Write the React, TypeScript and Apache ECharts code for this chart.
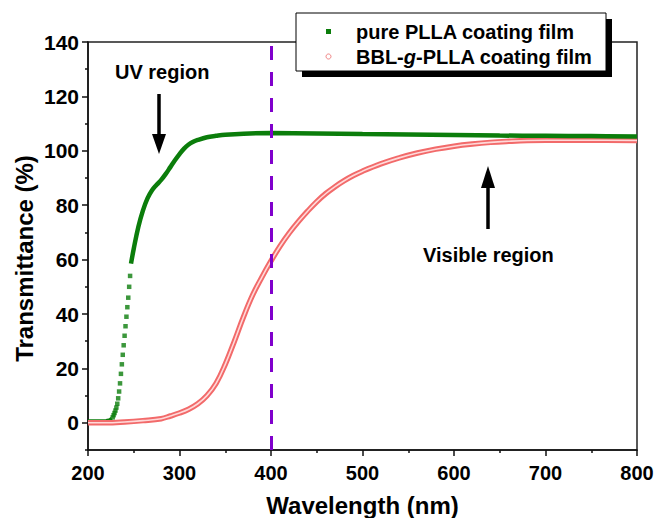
import React, { useEffect, useRef } from "react";
import * as echarts from "echarts";

// pure PLLA coating film (wavelength nm, transmittance %)
const greenBase: [number, number][] = [
  [200, 0.6], [210, 0.6], [220, 0.7], [224, 1], [226, 1.5],
];
const greenCurve: [number, number][] = [
  [247, 58.5], [250, 64], [255, 72], [260, 78], [265, 82.5], [270, 85.5], [275, 87.5],
  [280, 89.3], [285, 91.5], [290, 94], [295, 96.5], [300, 98.8], [305, 100.8], [310, 102.3],
  [315, 103.3], [320, 104], [330, 105], [340, 105.5], [350, 105.9], [370, 106.3],
  [400, 106.5], [450, 106.4], [500, 106.2], [550, 106], [600, 105.8], [650, 105.6],
  [700, 105.5], [750, 105.4], [800, 105.3],
];
// sparse dotted squares on the steep edge of the pure PLLA curve
const greenSteep: [number, number][] = [
  [227, 2], [228, 2.8], [229, 3.6], [230, 4.5], [231, 5.6], [232, 7], [233, 9],
  [234, 11.5], [235, 14.5], [236, 18], [237, 21.5], [238, 25], [239, 28.5],
  [240, 32], [241, 35.5], [242, 39], [243, 42.5], [244, 46], [245, 50],
  [246, 54],
];
// BBL-g-PLLA coating film
const redCurve: [number, number][] = [
  [200, 0], [220, 0], [240, 0.3], [260, 0.8], [280, 1.5], [290, 2.5], [300, 3.6],
  [310, 5], [320, 7], [330, 10], [340, 14.5], [350, 21.5], [360, 30], [370, 39],
  [380, 47], [390, 53.5], [400, 59.5], [410, 65], [420, 69.8], [430, 74], [440, 77.8],
  [450, 81.3], [460, 84.3], [470, 86.8], [480, 89], [490, 90.9], [500, 92.5],
  [520, 95.2], [540, 97.4], [560, 99.2], [580, 100.6], [600, 101.7], [620, 102.5],
  [640, 103.1], [660, 103.5], [680, 103.8], [700, 103.9], [750, 103.9], [800, 103.8],
];

const xTicks = [200, 300, 400, 500, 600, 700, 800];
const yLabels = [0, 20, 40, 60, 80, 100, 120, 140];
const yMinor = [-10, 10, 30, 50, 70, 90, 110, 130];
const markWavelength = 400;

const seriesNames = ["pure PLLA coating film", "BBL-g-PLLA coating film"];

const FONT = "'Liberation Sans', Arial, sans-serif";
const GREEN = "#0b7d0b";
const RED = "#f26a6a";

export default function App() {
  const ref = useRef<HTMLDivElement>(null);
  useEffect(() => {
    if (!ref.current) return;
    const chart = echarts.init(ref.current, null, { renderer: "svg" });
    const labelStyle = { color: "#000", fontWeight: "bold" as const, fontFamily: FONT };
    chart.setOption({
      animation: false,
      backgroundColor: "#ffffff",
      grid: {
        left: 88, top: 42, width: 549, height: 408,
        show: true, borderColor: "#222", borderWidth: 1.5, backgroundColor: "transparent",
      },
      xAxis: {
        type: "value", min: 200, max: 800, interval: 100,
        axisLine: { show: true, onZero: false, lineStyle: { color: "#111", width: 1.5 } },
        axisTick: { show: true, inside: false, length: 6, lineStyle: { color: "#111", width: 1.5 } },
        minorTick: { show: true, splitNumber: 2, length: 3, lineStyle: { color: "#111", width: 1.5 } },
        splitLine: { show: false },
        minorSplitLine: { show: false },
        axisLabel: { ...labelStyle, fontSize: 20, margin: 13, customValues: xTicks },
      },
      yAxis: [
        {
          type: "value", min: -10, max: 140,
          axisLine: { show: true, onZero: false, lineStyle: { color: "#111", width: 1.5 } },
          axisTick: { show: true, inside: false, length: 6, customValues: yLabels,
            lineStyle: { color: "#111", width: 1.5 } },
          splitLine: { show: false },
          axisLabel: { ...labelStyle, fontSize: 21, margin: 9, customValues: yLabels },
        },
        {
          type: "value", min: -10, max: 140, position: "left",
          axisLine: { show: false },
          axisTick: { show: true, inside: false, length: 3, customValues: yMinor,
            lineStyle: { color: "#111", width: 1.5 } },
          splitLine: { show: false },
          axisLabel: { show: false },
        },
      ],
      series: [
        {
          name: seriesNames[0] + " base", type: "line", data: greenBase,
          showSymbol: false, lineStyle: { color: GREEN, width: 4 }, z: 1,
        },
        {
          name: seriesNames[1], type: "line", data: redCurve, smooth: 0.4,
          showSymbol: false, lineStyle: { color: RED, width: 5.5 }, z: 2,
        },
        {
          name: seriesNames[1] + " inner", type: "line", data: redCurve, smooth: 0.4,
          showSymbol: false, lineStyle: { color: "#ffd9d9", width: 1.6 }, z: 3, silent: true,
        },
        {
          name: seriesNames[0], type: "line", data: greenCurve, smooth: 0.4,
          showSymbol: false, lineStyle: { color: GREEN, width: 4.5 }, z: 4,
        },
        {
          name: seriesNames[0] + " steep", type: "scatter", data: greenSteep,
          symbol: "rect", symbolSize: 4.5, itemStyle: { color: GREEN }, z: 4,
          markLine: {
            silent: true, symbol: ["none", "none"], label: { show: false },
            lineStyle: { color: "#8000cc", width: 3, type: [14, 12] },
            data: [{ xAxis: markWavelength }],
          },
        },
      ],
      graphic: [
        // legend shadow + box
        { type: "rect", shape: { x: 302, y: 19, width: 310, height: 58 }, style: { fill: "#000" }, z: 50 },
        { type: "rect", shape: { x: 296, y: 13, width: 310, height: 58 },
          style: { fill: "#fff", stroke: "#000", lineWidth: 1 }, z: 51 },
        { type: "rect", shape: { x: 326, y: 29, width: 5, height: 5 }, style: { fill: GREEN }, z: 52 },
        { type: "circle", shape: { cx: 328.5, cy: 56.5, r: 2.5 },
          style: { fill: "#fff", stroke: "#f08080", lineWidth: 1 }, z: 52 },
        { type: "text", x: 356, y: 31.5, z: 52,
          style: { text: seriesNames[0], font: `bold 20px ${FONT}`, fill: "#000",
            textVerticalAlign: "middle" } },
        { type: "text", x: 356, y: 56.5, z: 52,
          style: {
            text: "{b|BBL-}{i|g}{b|-PLLA coating film}",
            textVerticalAlign: "middle",
            rich: {
              b: { font: `bold 20px ${FONT}`, fill: "#000" },
              i: { font: `italic bold 20px ${FONT}`, fill: "#000" },
            },
          } },
        // annotations
        { type: "text", x: 115, y: 72, z: 20,
          style: { text: "UV region", font: `bold 20px ${FONT}`, fill: "#000", textVerticalAlign: "middle" } },
        { type: "line", shape: { x1: 159, y1: 94, x2: 159, y2: 140 }, z: 20,
          style: { stroke: "#000", lineWidth: 3.5 } },
        { type: "polygon", shape: { points: [[152, 134], [166, 134], [159, 154]] }, z: 20,
          style: { fill: "#000" } },
        { type: "text", x: 423, y: 255, z: 20,
          style: { text: "Visible region", font: `bold 20px ${FONT}`, fill: "#000", textVerticalAlign: "middle" } },
        { type: "line", shape: { x1: 488, y1: 229, x2: 488, y2: 182 }, z: 20,
          style: { stroke: "#000", lineWidth: 3.5 } },
        { type: "polygon", shape: { points: [[481, 188], [495, 188], [488, 166]] }, z: 20,
          style: { fill: "#000" } },
        // axis titles
        { type: "text", x: 362.5, y: 505, z: 20,
          style: { text: "Wavelength (nm)", font: `bold 24px ${FONT}`, fill: "#000",
            textAlign: "center", textVerticalAlign: "middle" } },
        { type: "text", x: 24, y: 258.5, rotation: Math.PI / 2, z: 20,
          style: { text: "Transmittance (%)", font: `bold 24px ${FONT}`, fill: "#000",
            textAlign: "center", textVerticalAlign: "middle" } },
      ],
    });
    return () => chart.dispose();
  }, []);
  return (
    <div
      ref={ref}
      style={{ position: "fixed", left: 0, top: 0, width: 657, height: 518 }}
    />
  );
}
